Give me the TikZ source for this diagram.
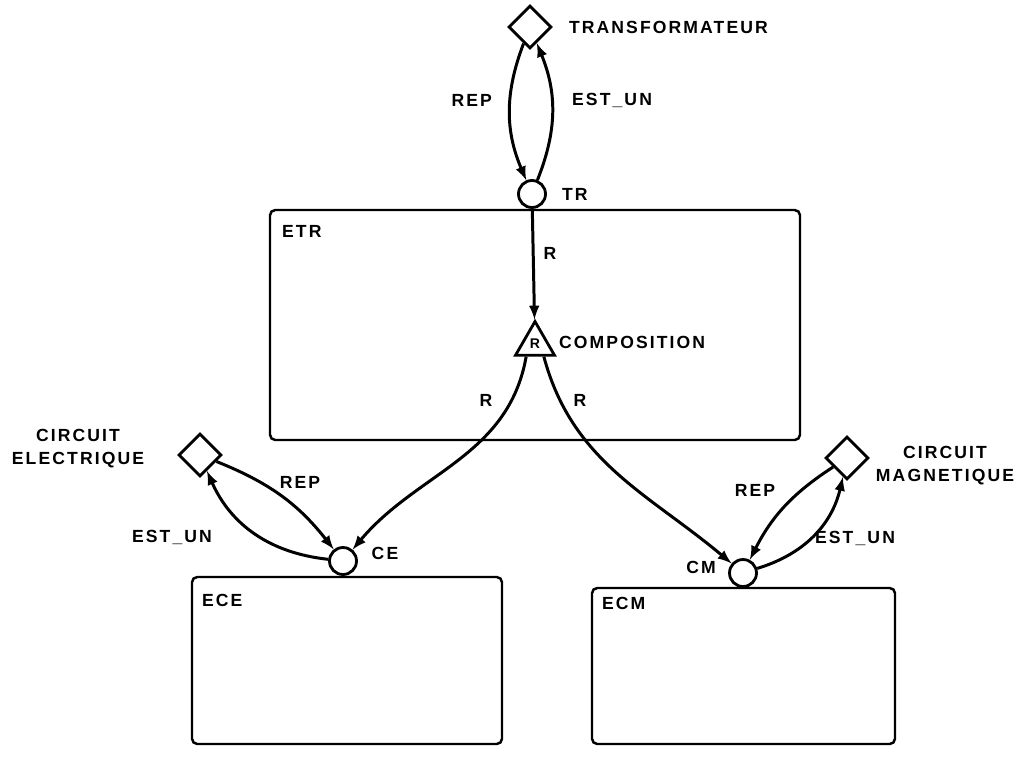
\documentclass[tikz,border=0pt]{standalone}
\usepackage{fontspec}
\newfontfamily\handfont{Liberation Sans}[LetterSpace=12]
\usepackage{tikz}
\usetikzlibrary{shapes.geometric, positioning}

\begin{document}
\begin{tikzpicture}[>=latex, x=0.02cm, y=-0.02cm,
    every node/.style={font=\handfont\bfseries\fontsize{10}{13}\selectfont},
    concept/.style={draw, diamond, line width=1.6pt, minimum size=0.86cm, inner sep=0pt},
    instance/.style={draw, circle, line width=1.6pt, minimum size=0.54cm, inner sep=0pt},
    relation/.style={draw, regular polygon, regular polygon sides=3, line width=1.6pt,
        minimum size=0.9cm, inner sep=0pt, font=\handfont\bfseries\fontsize{8}{9}\selectfont},
    wire/.style={line width=1.7pt},
    frame/.style={line width=1.4pt, rounded corners=3pt},
    lbl/.style={inner sep=1pt}]
    \useasboundingbox (0,0) rectangle (1024,758);

    % 1. Les cadres
    \draw[frame] (270,210) rectangle (800,440);
    \draw[frame] (192,577) rectangle (502,744);
    \draw[frame] (592,588) rectangle (895,744);
    \node[lbl, anchor=west] (etr) at (280,231) {ETR};
    \node[lbl, anchor=west] (ece) at (200,600) {ECE};
    \node[lbl, anchor=west] (ecm) at (600,603) {ECM};

    % 2. Les noeuds
    \node[concept] (transfo) at (530,27) {};
    \node[instance] (tr) at (532,194) {};
    \node[relation] (compo) at (535,344) {R};
    \node[concept] (elec) at (200,455) {};
    \node[instance] (ce) at (343,561) {};
    \node[concept] (magn) at (847,458) {};
    \node[instance] (cm) at (743,573) {};

    % 3. Les noms
    \node[lbl, right=0.28cm of transfo] (transfo-nom) {TRANSFORMATEUR};
    \node[lbl, right=0.26cm of tr] (tr-nom) {TR};
    \node[lbl, anchor=west] (compo-nom) at (557,342) {COMPOSITION};
    \node[lbl, align=center] (elec-nom) at (78,449) {CIRCUIT\\ELECTRIQUE};
    \node[lbl] (ce-nom) at (385,553) {CE};
    \node[lbl, align=center] (magn-nom) at (945,466) {CIRCUIT\\MAGNETIQUE};
    \node[lbl] (cm-nom) at (701,567) {CM};

    % 4. Les arcs
    \draw[wire, ->] (transfo) to[bend right=22] (tr);
    \draw[wire, ->] (tr) to[bend right=22] (transfo);
    \draw[wire, ->] (tr) -- (compo);
    \draw[wire, ->] (compo.-125) to[out=-100, in=50] (ce);
    \draw[wire, ->] (compo.-55) to[out=-75, in=140] (cm);
    \draw[wire, ->] (elec) to[bend left=15] (ce);
    \draw[wire, ->] (ce) to[bend left=30] (elec);
    \draw[wire, ->] (magn) to[bend right=15] (cm);
    \draw[wire, ->] (cm) to[bend right=30] (magn);

    % 5. Les etiquettes
    \node[lbl, anchor=east] (rep-haut) at (494,100) {REP};
    \node[lbl, anchor=west] (estun-haut) at (570,100) {EST\_UN};
    \node[lbl] (r-haut) at (550,253) {R};
    \node[lbl] (r-gauche) at (486,400) {R};
    \node[lbl] (r-droite) at (580,400) {R};
    \node[lbl] (rep-gauche) at (300,482) {REP};
    \node[lbl] (estun-gauche) at (172,537) {EST\_UN};
    \node[lbl] (rep-droite) at (755,490) {REP};
    \node[lbl] (estun-droite) at (855,538) {EST\_UN};
\end{tikzpicture}
\end{document}
